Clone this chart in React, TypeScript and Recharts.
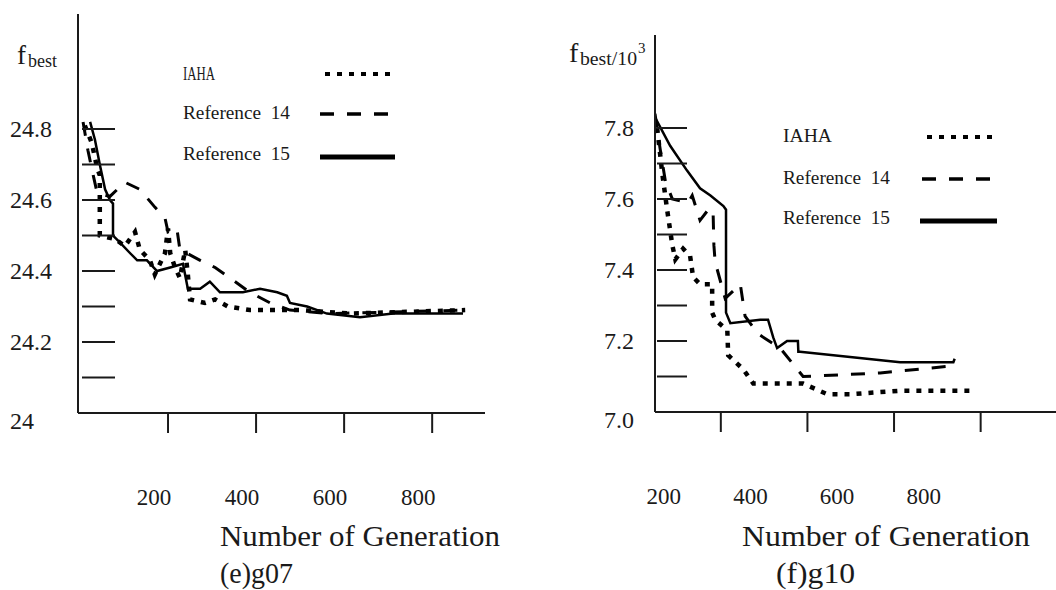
import React from "react";
import { LineChart, Line, XAxis, YAxis } from "recharts";

// generation, f_best
const g07Iaha: [number, number][] = [
  [11, 24.81], [27, 24.76], [39, 24.69], [45, 24.67], [45, 24.5], [80, 24.49], [102, 24.47],
  [125, 24.51], [136, 24.46], [159, 24.43], [170, 24.39], [193, 24.45], [200, 24.52], [205, 24.45],
  [216, 24.41], [227, 24.38], [239, 24.46], [245, 24.39], [250, 24.32], [284, 24.31], [307, 24.32],
  [336, 24.3], [386, 24.29], [500, 24.29], [614, 24.28], [875, 24.29],
];
const g07Ref14: [number, number][] = [
  [7, 24.82], [18, 24.74], [30, 24.67], [39, 24.62], [68, 24.61], [102, 24.65], [136, 24.63],
  [170, 24.58], [193, 24.55], [200, 24.51], [220, 24.52], [227, 24.46], [243, 24.45], [273, 24.43],
  [307, 24.41], [341, 24.38], [386, 24.34], [432, 24.31], [477, 24.29], [568, 24.28], [875, 24.29],
];
const g07Ref15: [number, number][] = [
  [23, 24.82], [34, 24.77], [45, 24.7], [57, 24.63], [68, 24.6], [75, 24.59], [75, 24.5], [91, 24.48],
  [114, 24.45], [130, 24.43], [152, 24.43], [175, 24.4], [205, 24.41], [234, 24.42], [245, 24.35],
  [273, 24.35], [295, 24.37], [318, 24.34], [370, 24.34], [409, 24.35], [448, 24.34], [470, 24.33],
  [477, 24.31], [516, 24.3], [561, 24.28], [636, 24.27], [711, 24.28], [870, 24.28],
];

const g10Iaha: [number, number][] = [
  [53, 7.8], [65, 7.67], [76, 7.57], [88, 7.47], [95, 7.43], [113, 7.46], [129, 7.44], [136, 7.38],
  [152, 7.36], [180, 7.36], [180, 7.28], [187, 7.26], [215, 7.23], [217, 7.16], [252, 7.12],
  [275, 7.08], [344, 7.08], [390, 7.08], [446, 7.05], [499, 7.05], [614, 7.06], [776, 7.06],
];
const g10Ref14: [number, number][] = [
  [48, 7.84], [60, 7.74], [72, 7.65], [88, 7.6], [125, 7.59], [134, 7.61], [152, 7.54], [171, 7.57],
  [182, 7.57], [184, 7.47], [187, 7.42], [192, 7.4], [210, 7.32], [245, 7.36], [256, 7.27],
  [286, 7.22], [337, 7.18], [390, 7.1], [568, 7.11], [737, 7.13],
];
const g10Ref15: [number, number][] = [
  [48, 7.83], [83, 7.75], [122, 7.68], [152, 7.63], [176, 7.61], [206, 7.58], [212, 7.57], [212, 7.28],
  [222, 7.25], [291, 7.26], [309, 7.26], [321, 7.21], [330, 7.18], [353, 7.2], [378, 7.2], [379, 7.17],
  [383, 7.17], [460, 7.16], [614, 7.14], [737, 7.14], [740, 7.15],
];

const genTicks = [200, 400, 600, 800];
const g07YTicks = [24, 24.1, 24.2, 24.3, 24.4, 24.5, 24.6, 24.7, 24.8];
const g07YLabels = [24, 24.2, 24.4, 24.6, 24.8];
const g10YTicks = [7.0, 7.1, 7.2, 7.3, 7.4, 7.5, 7.6, 7.7, 7.8];
const g10YLabels = [7.0, 7.2, 7.4, 7.6, 7.8];

const seriesNames = ["IAHA", "Reference  14", "Reference  15"];

const FONT = "'Liberation Serif', 'Times New Roman', serif";
const INK = "#1a1a1a";

const lineStyles = [
  { dash: "5 7", width: 4.5, legendWidth: 4 },
  { dash: "14 13", width: 3, legendWidth: 3.5 },
  { dash: undefined as string | undefined, width: 2.5, legendWidth: 5 },
];

const toRows = (pts: [number, number][]) => pts.map(([g, v]) => ({ g, v }));

function makeYTick(labels: number[], fmt: (v: number) => string, labelDx: number, markFrom: number, markTo: number, bottom: number) {
  return (props: any) => {
    const { x, y, payload } = props;
    const v = payload.value as number;
    const hasLabel = labels.some((l) => Math.abs(l - v) < 1e-6);
    const isBottom = Math.abs(v - bottom) < 1e-6;
    return (
      <g>
        {!isBottom || markFrom < 4 ? (
          <line x1={x + markFrom} x2={x + markTo} y1={y} y2={y} stroke={INK} strokeWidth={2} />
        ) : null}
        {hasLabel && (
          <text x={x + labelDx} y={isBottom ? y + 8 : y} dominantBaseline="central" fontFamily={FONT} fontSize={24} fill={INK}>
            {fmt(v)}
          </text>
        )}
      </g>
    );
  };
}

function makeXTick(dx: number) {
  return (props: any) => {
    const { x, y, payload } = props;
    return (
      <text x={x + dx} y={y + 64} textAnchor="middle" dominantBaseline="central" fontFamily={FONT} fontSize={23} fill={INK}>
        {payload.value}
      </text>
    );
  };
}

interface PanelProps {
  left: number;
  width: number;
  top: number;
  xHeight: number;
  marginLeft: number;
  xDomain: [number, number];
  yDomain: [number, number];
  yTicks: number[];
  yTick: (p: any) => React.ReactElement;
  xTick: (p: any) => React.ReactElement;
  series: [number, number][][];
}

function Panel({ left, width, top, xHeight, marginLeft, xDomain, yDomain, yTicks, yTick, xTick, series }: PanelProps) {
  return (
    <div style={{ position: "absolute", left, top: 0 }}>
      <LineChart width={width} height={590} margin={{ top, right: 0, bottom: 0, left: marginLeft }}>
        <XAxis
          dataKey="g"
          type="number"
          domain={xDomain}
          allowDataOverflow
          ticks={genTicks}
          interval={0}
          height={xHeight}
          tickSize={20}
          tickMargin={0}
          axisLine={{ stroke: INK, strokeWidth: 2 }}
          tickLine={{ stroke: INK, strokeWidth: 2 }}
          tick={xTick}
        />
        <YAxis
          type="number"
          domain={yDomain}
          allowDataOverflow
          ticks={yTicks}
          interval={0}
          width={60}
          tickSize={0}
          tickMargin={0}
          tickLine={false}
          axisLine={{ stroke: INK, strokeWidth: 2 }}
          tick={yTick}
        />
        {series.map((pts, i) => (
          <Line
            key={seriesNames[i]}
            data={toRows(pts)}
            dataKey="v"
            name={seriesNames[i]}
            type="linear"
            stroke="#000"
            strokeWidth={lineStyles[i].width}
            strokeDasharray={lineStyles[i].dash}
            dot={false}
            activeDot={false}
            isAnimationActive={false}
          />
        ))}
      </LineChart>
    </div>
  );
}

function LegendBlock({ textX, textYs, sx1, sx2, sys, iahaLen }: { textX: number; textYs: number[]; sx1: number[]; sx2: number[]; sys: number[]; iahaLen: number }) {
  return (
    <g>
      {seriesNames.map((name, i) => (
        <g key={name}>
          <text
            x={textX}
            y={textYs[i]}
            dominantBaseline="central"
            fontFamily={FONT}
            fontSize={19}
            fill={INK}
            textLength={i === 0 ? iahaLen : 107}
            lengthAdjust="spacingAndGlyphs"
            style={{ whiteSpace: "pre" }}
          >
            {name}
          </text>
          <line
            x1={sx1[i]}
            x2={sx2[i]}
            y1={sys[i]}
            y2={sys[i]}
            stroke="#000"
            strokeWidth={lineStyles[i].legendWidth}
            strokeDasharray={lineStyles[i].dash}
          />
        </g>
      ))}
    </g>
  );
}

export default function App() {
  const g07Fmt = (v: number) => (Math.abs(v - 24) < 1e-6 ? "24" : v.toFixed(1));
  const g10Fmt = (v: number) => v.toFixed(1);
  return (
    <div style={{ position: "fixed", left: 0, top: 0, width: 1056, height: 590, background: "#fff", fontFamily: FONT }}>
      <Panel
        left={0}
        width={485}
        top={14}
        xHeight={177}
        marginLeft={18}
        xDomain={[-4.5, 920]}
        yDomain={[24, 25.124]}
        yTicks={g07YTicks}
        yTick={makeYTick(g07YLabels, g07Fmt, -68, 4, 37, 24)}
        xTick={makeXTick(-14)}
        series={[g07Iaha, g07Ref14, g07Ref15]}
      />
      <Panel
        left={540}
        width={516}
        top={35}
        xHeight={178}
        marginLeft={55}
        xDomain={[48, 974]}
        yDomain={[7.0, 8.062]}
        yTicks={g10YTicks}
        yTick={makeYTick(g10YLabels, g10Fmt, -51, 2, 32, 7.0)}
        xTick={makeXTick(-57)}
        series={[g10Iaha, g10Ref14, g10Ref15]}
      />
      <svg width={1056} height={590} style={{ position: "absolute", left: 0, top: 0, pointerEvents: "none" }}>
        <text x={17} y={64} fontFamily={FONT} fontSize={27} fill={INK}>f</text>
        <text x={28} y={67} fontFamily={FONT} fontSize={18} fill={INK}>best</text>
        <text x={569} y={62} fontFamily={FONT} fontSize={28} fill={INK}>f</text>
        <text x={580} y={65} fontFamily={FONT} fontSize={19} fill={INK} textLength={57} lengthAdjust="spacingAndGlyphs">best/10</text>
        <text x={638} y={53} fontFamily={FONT} fontSize={15} fill={INK}>3</text>

        <LegendBlock textX={183} textYs={[73, 112, 153]} sx1={[325, 320, 320]} sx2={[393, 393, 395]} sys={[74, 114, 157]} iahaLen={32} />
        <LegendBlock textX={783} textYs={[135, 177, 217]} sx1={[927, 922, 920]} sx2={[993, 993, 997]} sys={[137, 179, 221]} iahaLen={49} />

        <text x={220} y={546} fontFamily={FONT} fontSize={29} fill={INK} textLength={280} lengthAdjust="spacingAndGlyphs">Number of Generation</text>
        <text x={220} y={583} fontFamily={FONT} fontSize={29} fill={INK} textLength={73} lengthAdjust="spacingAndGlyphs">(e)g07</text>
        <text x={742} y={546} fontFamily={FONT} fontSize={30} fill={INK} textLength={288} lengthAdjust="spacingAndGlyphs">Number of Generation</text>
        <text x={776} y={583} fontFamily={FONT} fontSize={30} fill={INK} textLength={79} lengthAdjust="spacingAndGlyphs">(f)g10</text>
      </svg>
    </div>
  );
}
